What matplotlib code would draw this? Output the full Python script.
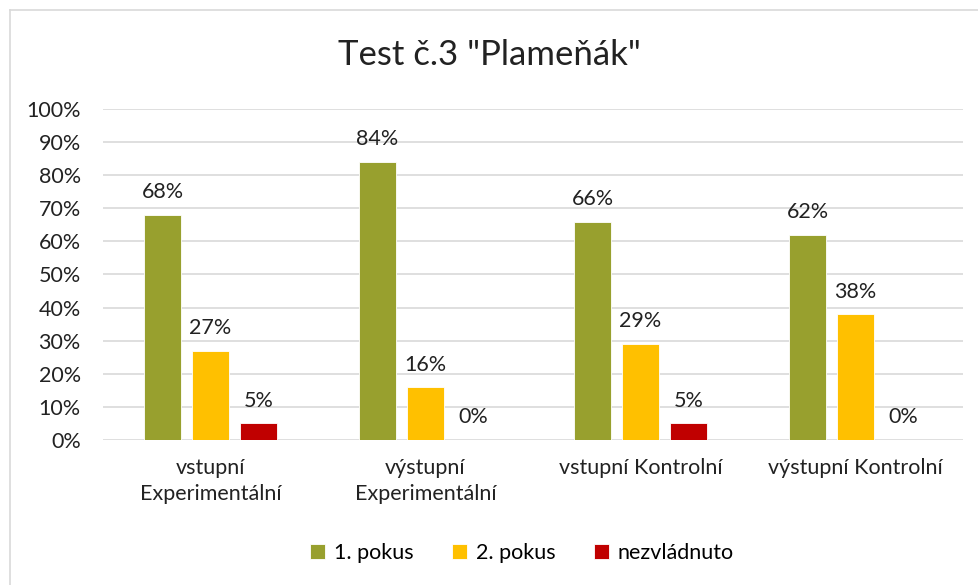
import numpy as np
import matplotlib
matplotlib.use("Agg")
import matplotlib.pyplot as plt
from matplotlib.lines import Line2D

plt.rcParams['font.family'] = ['Lato', 'DejaVu Sans']

categories = ['vstupní\nExperimentální', 'výstupní\nExperimentální',
              'vstupní Kontrolní', 'výstupní Kontrolní']
series_names = ['1. pokus', '2. pokus', 'nezvládnuto']
pokus1 = [68, 84, 66, 62]
pokus2 = [27, 16, 29, 38]
nezvladnuto = [5, 0, 5, 0]
colors = ['#98A02E', '#FFC000', '#C00000']

fs = 15.5

fig = plt.figure(figsize=(9.79, 5.85), dpi=100)
ax = fig.add_axes([0.1052, 0.2479, 0.8785, 0.5658])

# chart border (light gray)
fig.add_artist(Line2D([10/979, 10/979], [0, 1 - 10/585], color='#D9D9D9', lw=1.2))
fig.add_artist(Line2D([10/979, 1], [1 - 10/585, 1 - 10/585], color='#D9D9D9', lw=1.2))

x = np.arange(len(categories))
step = 0.223
width = 0.172
for i, (vals, name) in enumerate(zip([pokus1, pokus2, nezvladnuto], series_names)):
    bars = ax.bar(x + (i - 1) * step, vals, width, color=colors[i], label=name,
                  edgecolor='white', linewidth=0.6, zorder=3)
    ax.bar_label(bars, labels=[f'{v}%' for v in vals], padding=9, fontsize=fs, color='#222222')

ax.set_xlim(-0.5, len(categories) - 0.5)
ax.set_ylim(0, 100)
ax.set_yticks(np.arange(0, 101, 10))
ax.set_yticklabels([f'{v}%' for v in range(0, 101, 10)], fontsize=fs, color='#222222')
ax.set_xticks(x)
ax.set_xticklabels(categories, fontsize=fs, color='#222222', linespacing=1.35)
ax.tick_params(length=0)
ax.tick_params(axis='x', pad=13)
ax.tick_params(axis='y', pad=16)
ax.grid(axis='y', color='#D9D9D9', lw=1.2, zorder=0)
for s in ax.spines.values():
    s.set_visible(False)

fig.text(0.5, 1 - 55/585, 'Test č.3 "Plameňák"', ha='center', va='center',
         fontsize=25, color='#222222')

fig.legend(loc='center', bbox_to_anchor=(0.533, 1 - 553/585), ncol=3, frameon=False,
           fontsize=fs, handlelength=0.7, handleheight=0.7, handletextpad=0.4,
           columnspacing=1.8)

fig.savefig('out.png', dpi=100)
